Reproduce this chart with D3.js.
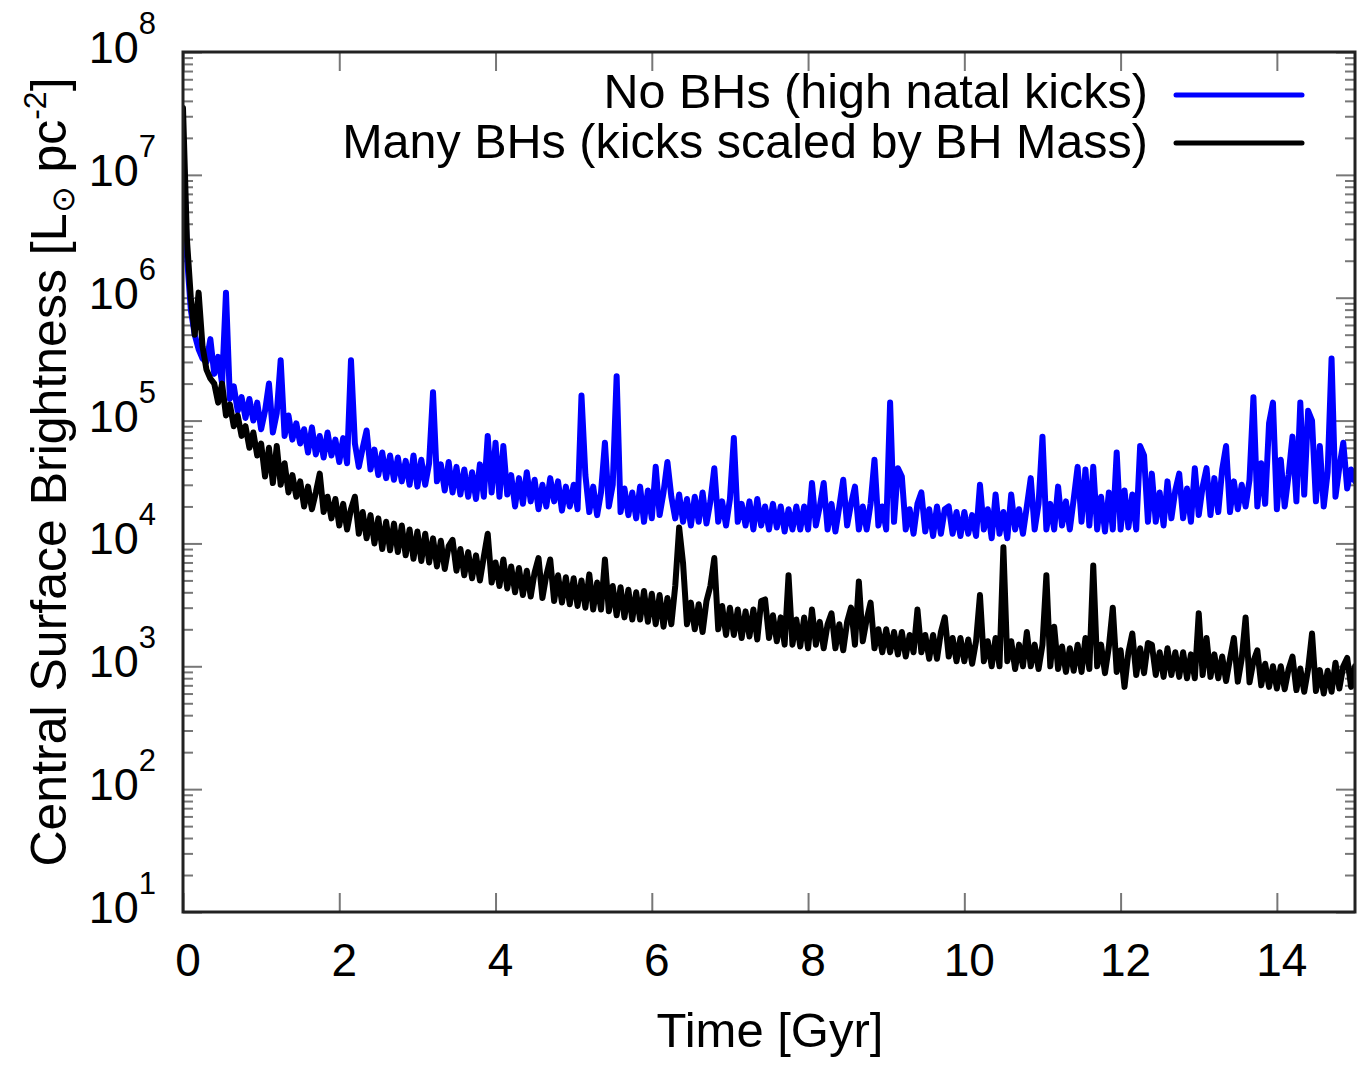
<!DOCTYPE html>
<html><head><meta charset="utf-8">
<script src="https://cdn.jsdelivr.net/npm/d3@7"></script>
<style>
body{margin:0;background:#fff}
svg{display:block}
text{font-family:"Liberation Sans",Arial,Helvetica,sans-serif;fill:#000}
</style>
</head><body>
<svg id="chart" width="1358" height="1066"></svg>
<script>
// Sample times [Gyr]
const timeGyr = [
0,0.05,0.1,0.15,0.2,0.25,0.3,0.35,0.4,0.45,0.5,0.55,0.6,0.65,0.7,0.75,0.8,0.85,0.9,0.95,
1,1.05,1.1,1.15,1.2,1.25,1.3,1.35,1.4,1.45,1.5,1.55,1.6,1.65,1.7,1.75,1.8,1.85,1.9,1.95,
2,2.05,2.1,2.15,2.2,2.25,2.3,2.35,2.4,2.45,2.5,2.55,2.6,2.65,2.7,2.75,2.8,2.85,2.9,2.95,
3,3.05,3.1,3.15,3.2,3.25,3.3,3.35,3.4,3.45,3.5,3.55,3.6,3.65,3.7,3.75,3.8,3.85,3.9,3.95,
4,4.05,4.1,4.15,4.2,4.25,4.3,4.35,4.4,4.45,4.5,4.55,4.6,4.65,4.7,4.75,4.8,4.85,4.9,4.95,
5,5.05,5.1,5.15,5.2,5.25,5.3,5.35,5.4,5.45,5.5,5.55,5.6,5.65,5.7,5.75,5.8,5.85,5.9,5.95,
6,6.05,6.1,6.15,6.2,6.25,6.3,6.35,6.4,6.45,6.5,6.55,6.6,6.65,6.7,6.75,6.8,6.85,6.9,6.95,
7,7.05,7.1,7.15,7.2,7.25,7.3,7.35,7.4,7.45,7.5,7.55,7.6,7.65,7.7,7.75,7.8,7.85,7.9,7.95,
8,8.05,8.1,8.15,8.2,8.25,8.3,8.35,8.4,8.45,8.5,8.55,8.6,8.65,8.7,8.75,8.8,8.85,8.9,8.95,
9,9.05,9.1,9.15,9.2,9.25,9.3,9.35,9.4,9.45,9.5,9.55,9.6,9.65,9.7,9.75,9.8,9.85,9.9,9.95,
10,10.05,10.1,10.15,10.2,10.25,10.3,10.35,10.4,10.45,10.5,10.55,10.6,10.65,10.7,10.75,10.8,10.85,10.9,10.95,
11,11.05,11.1,11.15,11.2,11.25,11.3,11.35,11.4,11.45,11.5,11.55,11.6,11.65,11.7,11.75,11.8,11.85,11.9,11.95,
12,12.05,12.1,12.15,12.2,12.25,12.3,12.35,12.4,12.45,12.5,12.55,12.6,12.65,12.7,12.75,12.8,12.85,12.9,12.95,
13,13.05,13.1,13.15,13.2,13.25,13.3,13.35,13.4,13.45,13.5,13.55,13.6,13.65,13.7,13.75,13.8,13.85,13.9,13.95,
14,14.05,14.1,14.15,14.2,14.25,14.3,14.35,14.4,14.45,14.5,14.55,14.6,14.65,14.7,14.75,14.8,14.85,14.9,14.95,
15];

// Central surface brightness [Lsun pc^-2], "No BHs (high natal kicks)"
const noBHs = [
2.0e7,2.2e6,8.0e5,5.0e5,3.8e5,3.2e5,3.0e5,4.6e5,2.4e5,3.3e5,2.0e5,1.1e6,1.5e5,1.9e5,1.2e5,1.55e5,1.05e5,1.5e5,1.0e5,1.4e5,
8.5e4,1.2e5,2.0e5,8.0e4,1.15e5,3.1e5,7.5e4,1.1e5,7.0e4,9.5e4,6.5e4,8.5e4,5.5e4,8.8e4,5.3e4,7.5e4,5.0e4,8.0e4,5.2e4,7.0e4,
4.6e4,7.2e4,4.5e4,3.1e5,6.5e4,4.2e4,6.0e4,8.3e4,4.0e4,5.8e4,3.6e4,5.5e4,3.4e4,5.2e4,3.3e4,5.0e4,3.2e4,4.7e4,3.0e4,5.2e4,
2.9e4,4.8e4,3.0e4,4.5e4,1.7e5,3.2e4,4.4e4,2.7e4,4.6e4,2.6e4,4.2e4,2.5e4,4.0e4,2.4e4,3.8e4,2.3e4,4.4e4,2.4e4,7.5e4,2.6e4,
6.6e4,2.4e4,6.2e4,2.5e4,3.6e4,2.0e4,3.4e4,2.1e4,3.8e4,2.2e4,3.3e4,1.9e4,3.0e4,2.0e4,3.4e4,2.2e4,3.2e4,1.85e4,2.9e4,2.0e4,
3.0e4,1.9e4,1.6e5,3.6e4,1.8e4,2.9e4,1.7e4,2.6e4,6.6e4,2.0e4,3.0e4,2.3e5,1.8e4,2.8e4,1.7e4,2.6e4,1.6e4,2.9e4,1.5e4,2.7e4,
1.6e4,4.2e4,1.7e4,2.6e4,4.6e4,2.4e4,1.6e4,2.5e4,1.5e4,2.3e4,1.4e4,2.4e4,1.5e4,2.6e4,1.45e4,2.2e4,4.1e4,1.5e4,2.2e4,1.4e4,
2.3e4,7.2e4,1.5e4,2.1e4,1.4e4,2.2e4,1.3e4,2.3e4,1.4e4,2.0e4,1.3e4,2.1e4,1.35e4,2.0e4,1.25e4,1.9e4,1.3e4,2.0e4,1.3e4,2.0e4,
1.3e4,3.1e4,1.4e4,2.0e4,3.1e4,1.3e4,2.1e4,1.25e4,2.0e4,3.3e4,1.4e4,2.1e4,2.9e4,1.3e4,2.0e4,1.3e4,2.1e4,4.8e4,1.4e4,2.0e4,
1.3e4,1.4e5,1.5e4,4.1e4,3.5e4,1.3e4,1.9e4,1.2e4,2.1e4,2.6e4,1.25e4,1.9e4,1.15e4,2.0e4,1.2e4,1.9e4,2.0e4,1.2e4,1.8e4,1.15e4,
1.8e4,1.2e4,1.7e4,1.15e4,3.0e4,1.3e4,1.9e4,1.1e4,2.5e4,1.2e4,1.8e4,1.1e4,2.5e4,1.3e4,1.9e4,1.2e4,2.0e4,3.4e4,1.3e4,2.1e4,
7.4e4,1.3e4,2.1e4,1.3e4,2.9e4,1.4e4,2.2e4,1.3e4,2.3e4,4.2e4,1.5e4,4.0e4,1.4e4,4.2e4,1.3e4,2.4e4,1.25e4,2.6e4,1.3e4,5.5e4,
1.3e4,2.7e4,1.35e4,2.5e4,1.3e4,6.2e4,5.2e4,1.5e4,3.7e4,1.5e4,2.6e4,1.4e4,3.2e4,1.6e4,2.7e4,3.7e4,1.6e4,2.8e4,1.5e4,4.1e4,
1.7e4,2.9e4,4.1e4,1.7e4,3.4e4,1.8e4,4.0e4,6.2e4,1.8e4,3.2e4,1.9e4,3.0e4,2.0e4,3.3e4,1.55e5,2.0e4,4.5e4,2.1e4,9.5e4,1.4e5,
1.9e4,4.8e4,2.0e4,3.6e4,7.4e4,2.2e4,1.4e5,2.5e4,1.2e5,1.0e5,2.2e4,6.2e4,2.0e4,3.8e4,3.2e5,2.4e4,4.2e4,6.6e4,2.8e4,4.0e4,
3.2e4];

// Central surface brightness [Lsun pc^-2], "Many BHs (kicks scaled by BH Mass)"
const manyBHs = [
3.5e7,3.0e6,1.0e6,5.0e5,1.1e6,4.0e5,2.6e5,2.2e5,2.0e5,1.4e5,2.0e5,1.1e5,1.35e5,9.0e4,1.1e5,7.5e4,9.0e4,6.0e4,8.0e4,5.2e4,
6.5e4,3.5e4,6.0e4,3.1e4,6.2e4,3.0e4,4.5e4,2.6e4,3.6e4,2.4e4,3.2e4,2.0e4,2.9e4,1.9e4,2.6e4,3.7e4,1.8e4,2.4e4,1.6e4,2.3e4,
1.4e4,2.1e4,1.3e4,1.9e4,2.4e4,1.2e4,1.8e4,1.1e4,1.7e4,1.0e4,1.6e4,9.0e3,1.5e4,8.8e3,1.45e4,8.5e3,1.4e4,8.0e3,1.3e4,7.5e3,
1.25e4,7.2e3,1.2e4,7.0e3,1.1e4,6.5e3,1.05e4,6.2e3,9.5e3,1.07e4,6.0e3,9.0e3,5.5e3,8.5e3,5.2e3,8.0e3,5.0e3,7.8e3,1.2e4,4.8e3,
7.0e3,4.5e3,7.4e3,4.3e3,6.5e3,4.0e3,6.3e3,3.8e3,6.0e3,3.7e3,5.8e3,7.6e3,3.6e3,5.5e3,7.4e3,3.4e3,5.5e3,3.3e3,5.3e3,3.2e3,
5.2e3,3.1e3,5.0e3,3.0e3,5.6e3,2.9e3,4.8e3,2.9e3,7.4e3,2.8e3,4.5e3,2.6e3,4.4e3,2.5e3,4.2e3,2.4e3,4.0e3,2.4e3,4.1e3,2.3e3,
3.9e3,2.2e3,3.8e3,2.1e3,3.6e3,2.2e3,4.5e3,1.35e4,6.9e3,2.2e3,3.3e3,2.0e3,3.2e3,1.9e3,3.4e3,4.5e3,7.6e3,2.0e3,3.1e3,1.8e3,
3.0e3,1.8e3,2.9e3,1.7e3,2.8e3,1.75e3,2.9e3,1.65e3,3.4e3,3.5e3,1.7e3,2.6e3,1.6e3,2.5e3,1.5e3,5.5e3,1.5e3,2.4e3,1.45e3,2.5e3,
1.4e3,2.9e3,1.5e3,2.3e3,1.4e3,2.2e3,2.7e3,1.4e3,2.2e3,1.35e3,2.3e3,3.0e3,1.5e3,4.9e3,1.6e3,2.4e3,3.3e3,1.4e3,2.0e3,1.3e3,
2.0e3,1.3e3,1.9e3,1.25e3,1.9e3,1.2e3,1.8e3,1.3e3,2.9e3,1.3e3,1.8e3,1.15e3,1.8e3,1.15e3,1.9e3,2.5e3,1.2e3,1.7e3,1.1e3,1.7e3,
1.1e3,1.65e3,1.05e3,1.6e3,3.8e3,1.1e3,1.6e3,1.0e3,1.7e3,1.0e3,9.3e3,1.1e3,1.6e3,9.5e2,1.5e3,1.0e3,1.9e3,1.0e3,1.5e3,9.5e2,
1.5e3,5.5e3,1.0e3,2.1e3,9.5e2,1.45e3,9.0e2,1.4e3,9.2e2,1.5e3,9.0e2,1.7e3,9.5e2,6.6e3,1.0e3,1.5e3,8.8e2,1.45e3,3.0e3,9.0e2,
1.35e3,6.8e2,1.3e3,1.85e3,8.5e2,1.4e3,8.8e2,1.55e3,1.5e3,8.5e2,1.3e3,8.2e2,1.4e3,8.5e2,1.3e3,8.2e2,1.3e3,8.0e2,1.25e3,8.0e2,
2.7e3,8.5e2,1.7e3,8.2e2,1.25e3,8.0e2,1.2e3,7.6e2,1.15e3,1.7e3,7.5e2,1.15e3,2.5e3,7.4e2,1.1e3,1.35e3,7.0e2,1.05e3,6.8e2,1.0e3,
6.6e2,1.0e3,6.5e2,9.5e2,1.2e3,6.4e2,9.6e2,6.2e2,9.5e2,1.85e3,6.3e2,9.3e2,6.0e2,9.2e2,6.2e2,1.07e3,6.6e2,1.0e3,1.17e3,6.8e2,
1.0e3];

const xTickValues = [0,2,4,6,8,10,12,14];
const yExponents = [1,2,3,4,5,6,7,8];
const seriesNames = ["No BHs (high natal kicks)", "Many BHs (kicks scaled by BH Mass)"];
const seriesColors = ["#0000ff", "#000000"];
const xTitle = "Time [Gyr]";

// ---- layout ----
const plot = {left:183, right:1355, top:52, bottom:912};
const svg = d3.select("#chart");

const x = d3.scaleLinear().domain([0,15]).range([plot.left, plot.right]);
const y = d3.scaleLog().domain([10, 1e8]).range([plot.bottom, plot.top]);

const majorY = yExponents.map(e => Math.pow(10, e));
const minorY = [];
yExponents.slice(0, -1).forEach(e => { for (let m = 2; m <= 9; m++) minorY.push(m * Math.pow(10, e)); });

const tickColor = "#777";
function styleAxis(g){
  g.select(".domain").remove();
  g.selectAll(".tick line").attr("stroke", tickColor).attr("stroke-width", 2);
  g.selectAll(".tick text").remove();
}

// x ticks bottom & top (inward)
svg.append("g").attr("transform",`translate(0,${plot.bottom})`)
  .call(d3.axisBottom(x).tickValues(xTickValues).tickSize(-19).tickFormat(""))
  .call(styleAxis);
svg.append("g").attr("transform",`translate(0,${plot.top})`)
  .call(d3.axisTop(x).tickValues(xTickValues).tickSize(-19).tickFormat(""))
  .call(styleAxis);
// y ticks left & right (major + minor, inward)
svg.append("g").attr("transform",`translate(${plot.left},0)`)
  .call(d3.axisLeft(y).tickValues(majorY).tickSize(-19).tickFormat(""))
  .call(styleAxis);
svg.append("g").attr("transform",`translate(${plot.left},0)`)
  .call(d3.axisLeft(y).tickValues(minorY).tickSize(-10).tickFormat(""))
  .call(styleAxis);
svg.append("g").attr("transform",`translate(${plot.right},0)`)
  .call(d3.axisRight(y).tickValues(majorY).tickSize(-19).tickFormat(""))
  .call(styleAxis);
svg.append("g").attr("transform",`translate(${plot.right},0)`)
  .call(d3.axisRight(y).tickValues(minorY).tickSize(-10).tickFormat(""))
  .call(styleAxis);

// clip
svg.append("clipPath").attr("id","clip").append("rect")
  .attr("x", plot.left).attr("y", plot.top)
  .attr("width", plot.right - plot.left).attr("height", plot.bottom - plot.top);

const line = d3.line().x((d,i) => x(timeGyr[i])).y(d => y(d));
const series = [noBHs, manyBHs];
svg.append("g").attr("clip-path","url(#clip)")
  .selectAll("path").data(series).join("path")
  .attr("d", d => line(d))
  .attr("fill","none")
  .attr("stroke", (d,i) => seriesColors[i])
  .attr("stroke-width", 6)
  .attr("stroke-linejoin","round")
  .attr("stroke-linecap","round");

// frame
svg.append("rect")
  .attr("x", plot.left).attr("y", plot.top)
  .attr("width", plot.right - plot.left).attr("height", plot.bottom - plot.top)
  .attr("fill","none").attr("stroke","#222").attr("stroke-width",3);

// x tick labels
svg.append("g").selectAll("text").data(xTickValues).join("text")
  .attr("x", d => x(d) + 5).attr("y", 976)
  .attr("text-anchor","middle").attr("font-size", 46)
  .text(d => d);

// y tick labels 10^n
const yl = svg.append("g").selectAll("text").data(yExponents).join("text")
  .attr("x", 156).attr("y", d => y(Math.pow(10, d)) + 11)
  .attr("text-anchor","end").attr("font-size", 45);
yl.append("tspan").text("10");
yl.append("tspan").attr("dy", -29).attr("font-size", 31).text(d => d);

// x title
svg.append("text").attr("x", 770).attr("y", 1047)
  .attr("text-anchor","middle").attr("font-size", 49).text(xTitle);

// y title
const yt = svg.append("text")
  .attr("transform", "translate(66,472) rotate(-90)")
  .attr("text-anchor","middle").attr("font-size", 50);
yt.append("tspan").text("Central Surface Brightness [L");
yt.append("tspan").attr("dy", 8).attr("font-size", 32).text("\u2299");
yt.append("tspan").attr("dy", -8).text(" pc");
yt.append("tspan").attr("dy", -20).attr("font-size", 32).text("-2");
yt.append("tspan").attr("dy", 20).text("]");

// legend
const legRows = [{y:108, ly:95}, {y:158, ly:143}];
const leg = svg.append("g").selectAll("g").data(seriesNames).join("g");
leg.append("text").attr("x", 1148).attr("y", (d,i) => legRows[i].y)
  .attr("text-anchor","end").attr("font-size", 48.5).text(d => d);
leg.append("line").attr("x1", 1176).attr("x2", 1302)
  .attr("y1", (d,i) => legRows[i].ly).attr("y2", (d,i) => legRows[i].ly)
  .attr("stroke", (d,i) => seriesColors[i]).attr("stroke-width", 5)
  .attr("stroke-linecap","round");
</script>
</body></html>
